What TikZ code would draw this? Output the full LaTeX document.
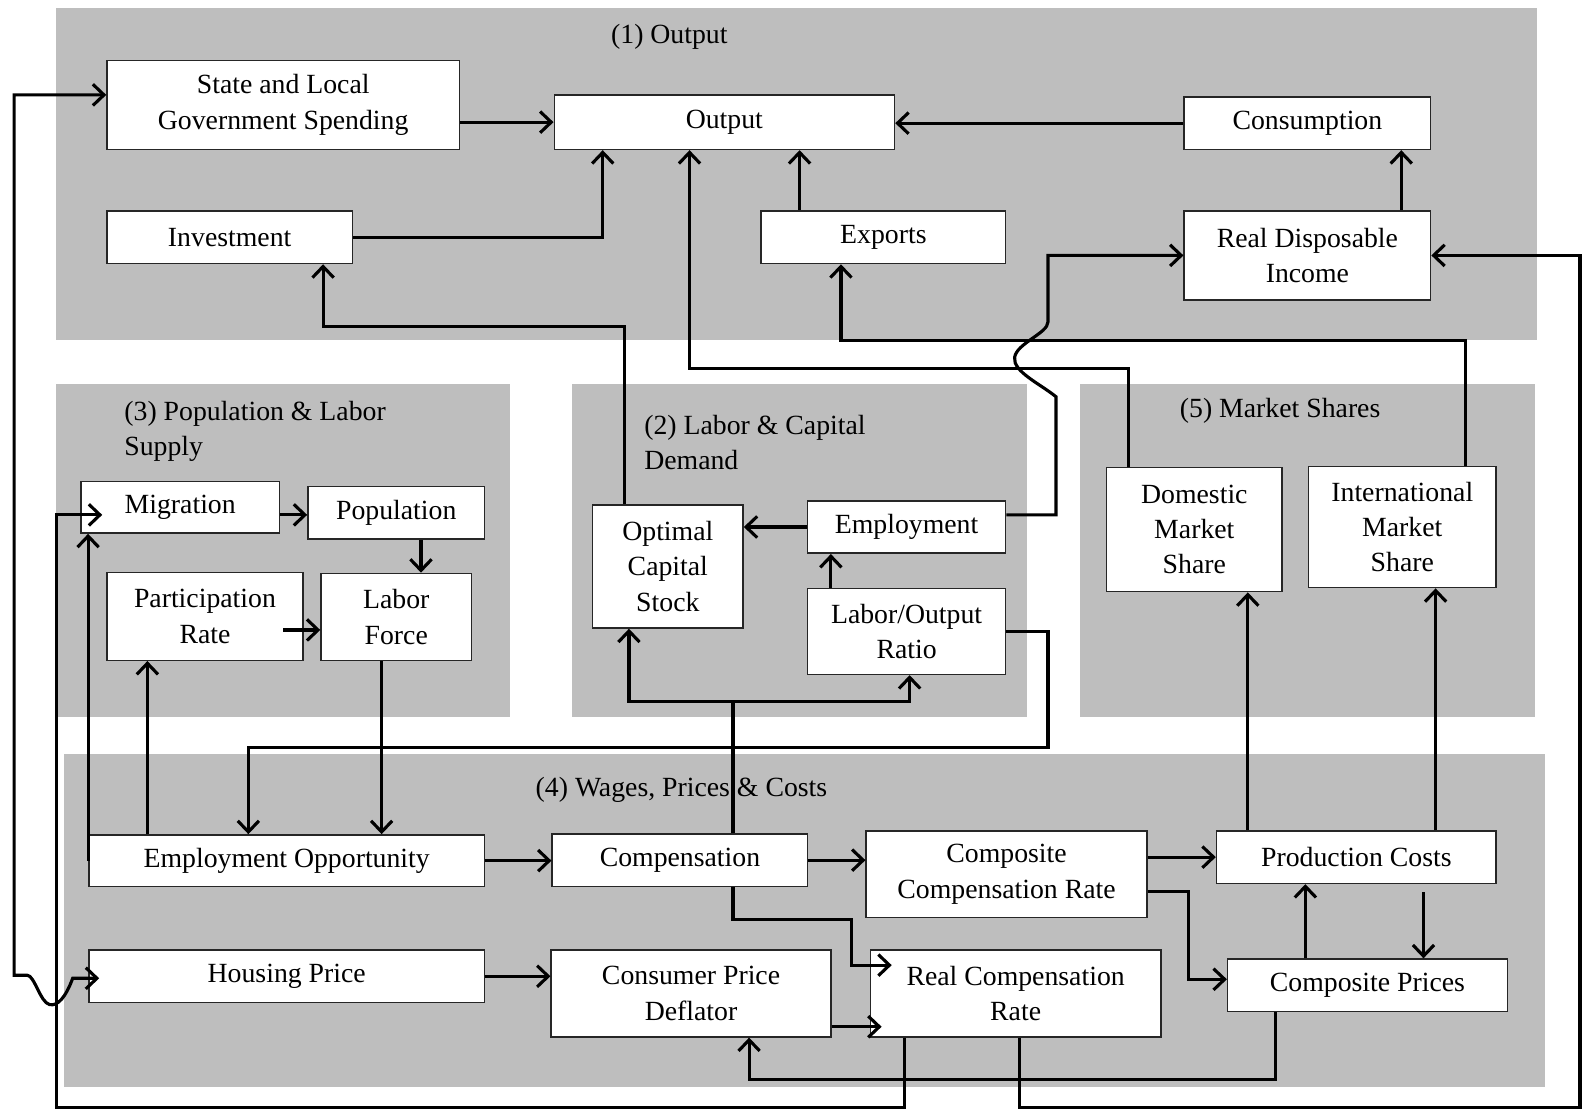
\documentclass[tikz,border=0pt]{standalone}
\usepackage{fontspec}
\setmainfont{Liberation Serif}
\usetikzlibrary{arrows.meta,calc}
\definecolor{panelgray}{RGB}{190,190,190}
\begin{document}
\begin{tikzpicture}[x=1pt,y=-1pt,
  panel/.style={fill=panelgray, draw=none},
  box/.style={draw=black!85, line width=1.5pt, fill=white, align=center, inner sep=0pt, font=\fontsize{27.5}{35}\selectfont},
  lbl/.style={font=\fontsize{27.5}{35}\selectfont, align=left, inner sep=0pt},
  ln/.style={line width=3.1pt},
  arr/.style={ln, -{Straight Barb[length=11pt,width=21pt]}},
  both/.style={ln, {Straight Barb[length=11pt,width=21pt]}-{Straight Barb[length=11pt,width=21pt]}},
]
\useasboundingbox (0,0) rectangle (1568,1099);
\fill[white] (0,0) rectangle (1568,1099);

% panels
\fill[panel] (55,8) rectangle (1522,337);
\fill[panel] (55,380) rectangle (505,710);
\fill[panel] (567,380) rectangle (1017,710);
\fill[panel] (1070,380) rectangle (1520,710);
\fill[panel] (63,747) rectangle (1530,1077);

% panel labels
\node[lbl] (l1) at (663,36) {(1) Output};
\node[lbl, anchor=west] (l3) at (123,427) {(3) Population \& Labor\\Supply};
\node[lbl, anchor=west] (l2) at (638,438) {(2) Labor \& Capital\\Demand};
\node[lbl] (l5) at (1268,407) {(5) Market Shares};
\node[lbl] (l4) at (675,782) {(4) Wages, Prices \& Costs};

% nodes: panel 1
\node[box, minimum width=349pt, minimum height=88pt] (slg) at (280.5,104) {State and Local\\Government Spending};
\node[box, minimum width=337pt, minimum height=54pt] (out) at (717.5,121) {Output};
\node[box, minimum width=244pt, minimum height=52pt] (cons) at (1295,122) {Consumption};
\node[box, minimum width=243pt, minimum height=52pt] (inv) at (227.5,235) {Investment};
\node[box, minimum width=242pt, minimum height=52pt] (exp) at (875,235) {Exports};
\node[box, minimum width=244pt, minimum height=88pt] (rdi) at (1295,253) {Real Disposable\\Income};
% panel 3
\node[box, minimum width=197pt, minimum height=51pt] (mig) at (178.5,502.5) {Migration};
\node[box, minimum width=175pt, minimum height=52pt] (pop) at (392.5,508) {Population};
\node[box, minimum width=194pt, minimum height=87pt] (par) at (203,610.5) {Participation\\Rate};
\node[box, minimum width=149pt, minimum height=86pt] (lf) at (392.5,611) {Labor\\Force};
% panel 2
\node[box, minimum width=149pt, minimum height=122pt] (ocs) at (661.5,561) {Optimal\\Capital\\Stock};
\node[box, minimum width=196pt, minimum height=52pt] (emp) at (898,522) {Employment};
\node[box, minimum width=196pt, minimum height=85pt] (lor) at (898,625.5) {Labor/Output\\Ratio};
% panel 5
\node[box, minimum width=174pt, minimum height=123pt] (dms) at (1183,524.5) {Domestic\\Market\\Share};
\node[box, minimum width=186pt, minimum height=120pt] (ims) at (1389,522) {International\\Market\\Share};
% panel 4
\node[box, minimum width=392pt, minimum height=51pt] (eo) at (284,852.5) {Employment Opportunity};
\node[box, minimum width=253pt, minimum height=52pt] (comp) at (673.5,852) {Compensation};
\node[box, minimum width=278pt, minimum height=86pt] (ccr) at (997,866) {Composite\\Compensation Rate};
\node[box, minimum width=277pt, minimum height=52pt] (pc) at (1343.5,849) {Production Costs};
\node[box, minimum width=392pt, minimum height=52pt] (hp) at (284,967) {Housing Price};
\node[box, minimum width=277pt, minimum height=86pt] (cpd) at (684.5,984) {Consumer Price\\Deflator};
\node[box, minimum width=288pt, minimum height=86pt] (rcr) at (1006,984) {Real Compensation\\Rate};
\node[box, minimum width=277pt, minimum height=52pt] (cp) at (1354.5,976) {Composite Prices};

% connectors: panel 1
\draw[arr] (slg.east |- out.west) -- (out.west);
\draw[arr] (cons.west) -- (cons.west -| out.east);
\draw[arr] (inv.east) -| (597,0 |- out.south);
\draw[arr] (792,0 |- exp.north) -- (792,0 |- out.south);
\draw[arr] (1388,0 |- rdi.north) -- (1388,0 |- cons.south);
\draw[arr] (619,0 |- ocs.north) -- (619,323) -| (320,0 |- inv.south);

% market shares to output / exports
\draw[arr] (1118,0 |- dms.north) -- (1118,365) -| (683,0 |- out.south);
\draw[arr] (1452,0 |- ims.north) -- (1452,337) -| (833,0 |- exp.south);

% employment to real disposable income, with hop
\draw[arr] (emp.east |- 0,510) -- (1046,510) -- (1046,393)
  .. controls (1030,380) and (1003,368) .. (1005,354)
  .. controls (1007,340) and (1038,330) .. (1038,319)
  -- (1038,0 |- rdi.west) -- (rdi.west);

% real compensation rate to real disposable income
\draw[arr] (1010,0 |- rcr.south) -- (1010,1097) -- (1565,1097) -- (1565,0 |- rdi.east) -- (rdi.east);

% composite prices to consumer price deflator
\draw[arr] (1263,0 |- cp.south) -- (1263,1069) -| (742,0 |- cpd.south);

% real compensation rate to migration
\draw[arr] (896,0 |- rcr.south) -- (896,1097) -- (56,1097) -- (56,510) -- ($(mig.west |- 0,510)+(22,0)$);

% housing price <-> state and local government spending
\draw[both] ($(hp.west)+(11,2)$) -- (72,969)
  .. controls (65,988) and (57,997) .. (49,995)
  .. controls (40,993) and (34,966) .. (27,966)
  -- (14,966) -- (14,94) -- (slg.west |- 0,94);

% panel 3
\draw[arr] (mig.east |- 0,510) -- (pop.west |- 0,510);
\draw[arr] (417,0 |- pop.south) -- (417,0 |- lf.north);
\draw[arr] ($(par.east |- 0,624)+(-20,0)$) -- (lf.west |- 0,624);
\draw[arr] (378,0 |- lf.south) -- (378,0 |- eo.north);
\draw[arr] (146,0 |- eo.north) -- (146,0 |- par.south);
\draw[arr] (eo.west) -- (eo.west |- mig.south);

% panel 2
\draw[arr] (lor.east) -- (1038,0 |- lor.east) -- (1038,740) -| (246,0 |- eo.north);
\draw[arr] (823,0 |- lor.north) -- (823,0 |- emp.south);
\draw[arr] (emp.west) -- (emp.west -| ocs.east);
\draw[ln] (726,0 |- comp.north) -- (726,695);
\draw[both] (623,0 |- ocs.south) -- (623,695) -- (901,695) -- (901,0 |- lor.south);

% panel 4
\draw[arr] (eo.east) -- (comp.west |- eo.east);
\draw[arr] (comp.east) -- (ccr.west |- comp.east);
\draw[arr] (ccr.east |- pc.west) -- (pc.west);
\draw[arr] (ccr.east |- 0,883) -- (1177,883) |- (cp.west |- 0,970);
\draw[arr] (726,0 |- comp.south) -- (726,911) -| (843,956) -- ($(rcr.west |- 0,956)+(22,0)$);
\draw[arr] (cpd.east |- 0,1017) -- ($(rcr.west |- 0,1017)+(12,0)$);
\draw[arr] (hp.east) -- (cpd.west |- hp.east);
\draw[arr] ($(1410,0 |- pc.south)+(0,8)$) -- (1410,0 |- cp.north);
\draw[arr] (1293,0 |- cp.north) -- (1293,0 |- pc.south);
\draw[arr] (1236,0 |- pc.north) -- (1236,0 |- dms.south);
\draw[arr] (1422,0 |- pc.north) -- (1422,0 |- ims.south);
\end{tikzpicture}
\end{document}
